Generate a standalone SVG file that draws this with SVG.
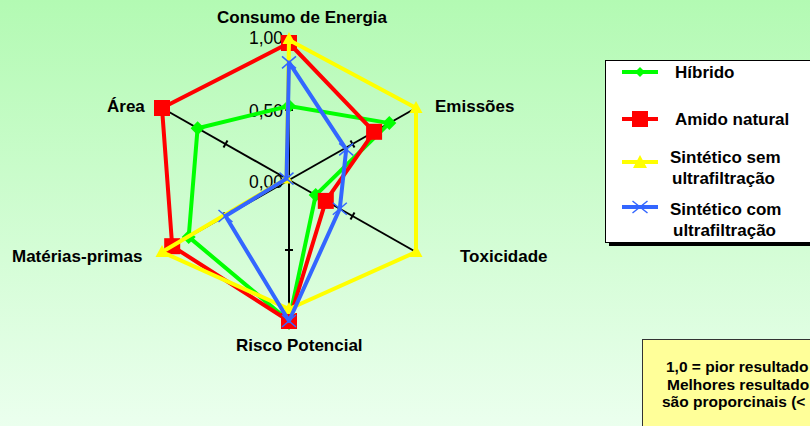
<svg xmlns="http://www.w3.org/2000/svg" width="810" height="426" viewBox="0 0 810 426">
<defs>
<linearGradient id="bg" x1="0" y1="0" x2="0" y2="1">
<stop offset="0" stop-color="#B3FAB3"/>
<stop offset="1" stop-color="#EBFFEE"/>
</linearGradient>
<symbol id="mDia" overflow="visible"><polygon points="0,-7 7,0 0,7 -7,0" fill="#00FF00"/></symbol>
<symbol id="mSq" overflow="visible"><rect x="-8" y="-8" width="16" height="16" fill="#FF0000"/></symbol>
<symbol id="mTri" overflow="visible"><polygon points="0,-7 6.5,5 -6.5,5" fill="#FFFF00"/></symbol>
<symbol id="mX" overflow="visible"><path d="M-7,-6 L7,6 M-7,6 L7,-6" stroke="#3366FF" stroke-width="1.5" fill="none"/></symbol>
</defs>
<style>
.lbl{font-family:"Liberation Sans",Arial,sans-serif;font-weight:bold;font-size:17px;fill:#000}
.val{font-family:"Liberation Sans",Arial,sans-serif;font-size:17.5px;fill:#000}
.axis{stroke:#000;stroke-width:2;fill:none}
.tick{stroke:#000;stroke-width:2;fill:none}
.ser{fill:none;stroke-width:4;stroke-linejoin:round}
.leg{font-family:"Liberation Sans",Arial,sans-serif;font-weight:bold;font-size:17px;fill:#000}
.note{font-family:"Liberation Sans",Arial,sans-serif;font-weight:bold;font-size:15.5px;fill:#000}
</style>
<rect x="0" y="0" width="810" height="426" fill="url(#bg)"/>

<g id="axes">
<line class="axis" x1="289" y1="180" x2="289" y2="40"/>
<line class="axis" x1="289" y1="180" x2="416" y2="108"/>
<line class="axis" x1="289" y1="180" x2="416" y2="252"/>
<line class="axis" x1="289" y1="180" x2="289" y2="320"/>
<line class="axis" x1="289" y1="180" x2="162" y2="252"/>
<line class="axis" x1="289" y1="180" x2="162" y2="108"/>
<line class="tick" x1="285" y1="110" x2="293" y2="110"/>
<line class="tick" x1="285" y1="250" x2="293" y2="250"/>
<line class="tick" x1="350.5" y1="140.5" x2="354.5" y2="147.5"/>
<line class="tick" x1="350.5" y1="219.5" x2="354.5" y2="212.5"/>
<line class="tick" x1="227.5" y1="140.5" x2="223.5" y2="147.5"/>
<line class="tick" x1="227.5" y1="219.5" x2="223.5" y2="212.5"/>
<text class="val" x="283" y="44" text-anchor="end">1,00</text>
<text class="val" x="283" y="117" text-anchor="end">0,50</text>
<text class="val" x="283" y="188" text-anchor="end">0,00</text>
</g>

<g id="labels">
<text class="lbl" x="217" y="23">Consumo de Energia</text>
<text class="lbl" x="435" y="112">Emissões</text>
<text class="lbl" x="460" y="262">Toxicidade</text>
<text class="lbl" x="236" y="351">Risco Potencial</text>
<text class="lbl" x="12" y="262">Matérias-primas</text>
<text class="lbl" x="107" y="112">Área</text>
</g>

<g id="connectors">
<g id="hibrido">
<polygon class="ser" stroke="#00FF00" points="289,106 389.3,123.1 315.7,195.1 289,321 188.7,236.9 197.6,128.2"/>
<use href="#mDia" x="289" y="106"/>
<use href="#mDia" x="389.3" y="123.1"/>
<use href="#mDia" x="315.7" y="195.1"/>
<use href="#mDia" x="289" y="323"/>
<use href="#mDia" x="188.7" y="236.9"/>
<use href="#mDia" x="197.6" y="128.2"/>
</g>
<g id="amido">
<polygon class="ser" stroke="#FF0000" points="289,43 374.1,131.8 325.8,200.9 289,321 172.2,246.2 162,108"/>
<use href="#mSq" x="289" y="43"/>
<use href="#mSq" x="374.1" y="131.8"/>
<use href="#mSq" x="325.8" y="200.9"/>
<use href="#mSq" x="289" y="321"/>
<use href="#mSq" x="172.2" y="246.2"/>
<use href="#mSq" x="162" y="108"/>
</g>
<g id="sintetico-sem">
<polygon class="ser" stroke="#FFFF00" points="289,40 416,108 416,252 289,309 162,252 286.5,178.6"/>
<use href="#mTri" x="289" y="39"/>
<use href="#mTri" x="416" y="108"/>
<use href="#mTri" x="416" y="252"/>
<use href="#mTri" x="289" y="309"/>
<use href="#mTri" x="162" y="252"/>
<use href="#mTri" x="286.5" y="178.6"/>
</g>
<g id="sintetico-com">
<polygon class="ser" stroke="#3366FF" points="289,62.4 346.2,149.4 339.8,208.8 289,321 225.5,216 286.5,178.6"/>
<use href="#mX" x="289" y="62.4"/>
<use href="#mX" x="346.2" y="149.4"/>
<use href="#mX" x="339.8" y="208.8"/>
<use href="#mX" x="289" y="321"/>
<use href="#mX" x="225.5" y="216"/>
<use href="#mX" x="286.5" y="178.6"/>
</g>
</g>

<g id="legend">
<rect x="609" y="64" width="205" height="182" fill="#000"/>
<rect x="605.5" y="60.5" width="210" height="182" fill="#FFFFFF" stroke="#000" stroke-width="1"/>
<line x1="622" y1="72" x2="658" y2="72" stroke="#00FF00" stroke-width="4"/>
<polygon points="640,67 645,72 640,77 635,72" fill="#00FF00"/>
<text class="leg" x="675" y="78">Híbrido</text>
<line x1="622" y1="119" x2="658" y2="119" stroke="#FF0000" stroke-width="4"/>
<rect x="632" y="111" width="16" height="16" fill="#FF0000"/>
<text class="leg" x="675" y="125">Amido natural</text>
<line x1="622" y1="162" x2="658" y2="162" stroke="#FFFF00" stroke-width="4"/>
<polygon points="640,155 647,168 633,168" fill="#FFFF00"/>
<text class="leg" x="670" y="163">Sintético sem</text>
<text class="leg" x="672" y="184">ultrafiltração</text>
<line x1="622" y1="207" x2="658" y2="207" stroke="#3366FF" stroke-width="4"/>
<path d="M632.5,201 L647.5,213 M632.5,213 L647.5,201" stroke="#3366FF" stroke-width="1.5" fill="none"/>
<text class="leg" x="670" y="215">Sintético com</text>
<text class="leg" x="673" y="236">ultrafiltração</text>
</g>

<g id="note">
<rect x="642.5" y="339.5" width="180" height="100" fill="#FFFF99" stroke="#333" stroke-width="1"/>
<text class="note" x="666" y="372">1,0 = pior resultado</text>
<text class="note" x="667" y="390">Melhores resultado</text>
<text class="note" x="662" y="407">são proporcinais (&lt;</text>
</g>
</svg>
